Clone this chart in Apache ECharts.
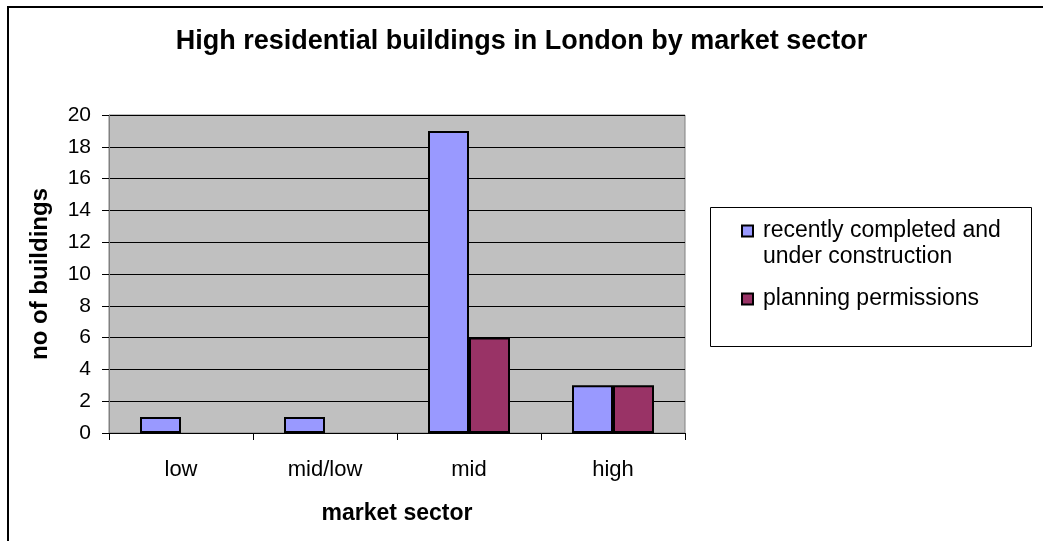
<!DOCTYPE html>
<html>
<head>
<meta charset="utf-8">
<script src="https://cdn.jsdelivr.net/npm/echarts@6/dist/echarts.min.js"></script>
<style>
  html, body { margin: 0; padding: 0; background: #fff; }
  #chart { width: 1043px; height: 541px; }
</style>
</head>
<body>
<div id="chart"></div>
<script>
const sectors = ['low', 'mid/low', 'mid', 'high']
const seriesNames = ['recently completed and\nunder construction', 'planning permissions']
const completed = [1, 1, 19, 3]
const planning = [null, null, 6, 3]   // blank cells for low and mid/low

const chart = echarts.init(document.getElementById('chart'))
const font = 'Liberation Sans, Arial, sans-serif'

chart.setOption({
  animation: false,
  textStyle: { fontFamily: font },
  title: {
    text: 'High residential buildings in London by market sector',
    left: 'center',
    top: 23,
    textStyle: { fontFamily: font, fontSize: 27, fontWeight: 'bold', color: '#000' }
  },
  graphic: [
    // outer chart frame
    { type: 'rect', shape: { x: 8, y: 7, width: 1100, height: 600 }, style: { fill: 'none', stroke: '#000', lineWidth: 2 }, z: -10 },
    // legend box
    { type: 'rect', shape: { x: 710.5, y: 207.5, width: 321, height: 139 }, style: { fill: '#fff', stroke: '#000', lineWidth: 1 }, z: -5 }
  ],
  legend: {
    orient: 'vertical',
    left: 741,
    top: 192,
    padding: 0,
    itemWidth: 11,
    itemHeight: 11,
    itemGap: 16,
    icon: 'rect',
    itemStyle: { borderColor: '#000', borderWidth: 2 },
    textStyle: { fontFamily: font, fontSize: 23, color: '#000', lineHeight: 26, padding: [0, 0, 0, 5] },
    // an empty line before the two-line label keeps its first line level with the square
    formatter: name => (name === seriesNames[0] ? '\n' + name : name),
    data: seriesNames
  },
  grid: {
    left: 109, right: 358, top: 115, bottom: 108,
    show: true,
    backgroundColor: '#C0C0C0',
    borderColor: '#808080',
    borderWidth: 1
  },
  xAxis: {
    type: 'category',
    data: sectors,
    name: 'market sector',
    nameLocation: 'middle',
    nameGap: 69,
    nameTextStyle: { fontFamily: font, fontSize: 23, fontWeight: 'bold', color: '#000' },
    axisLine: { lineStyle: { color: '#000', width: 1 } },
    axisTick: { show: true, length: 7, alignWithLabel: false, lineStyle: { color: '#000' } },
    axisLabel: { fontFamily: font, fontSize: 22, color: '#000', margin: 26 },
    splitLine: { show: false }
  },
  yAxis: {
    type: 'value',
    min: 0,
    max: 20,
    interval: 2,
    name: 'no of buildings',
    nameLocation: 'middle',
    nameGap: 57,
    nameTextStyle: { fontFamily: font, fontSize: 24, fontWeight: 'bold', color: '#000' },
    axisLine: { show: true, lineStyle: { color: '#808080', width: 1 } },
    axisTick: { show: true, length: 7, lineStyle: { color: '#000' } },
    axisLabel: { fontFamily: font, fontSize: 21, color: '#000', margin: 18 },
    splitLine: { show: true, lineStyle: { color: '#000', width: 1 } }
  },
  series: [
    {
      name: seriesNames[0],
      type: 'bar',
      data: completed,
      barWidth: 41,
      barGap: '0%',
      itemStyle: { color: '#9999FF', borderColor: '#000', borderWidth: 2 }
    },
    {
      name: seriesNames[1],
      type: 'bar',
      data: planning,
      barWidth: 41,
      barGap: '0%',
      itemStyle: { color: '#993366', borderColor: '#000', borderWidth: 2 }
    }
  ]
})
</script>
</body>
</html>
